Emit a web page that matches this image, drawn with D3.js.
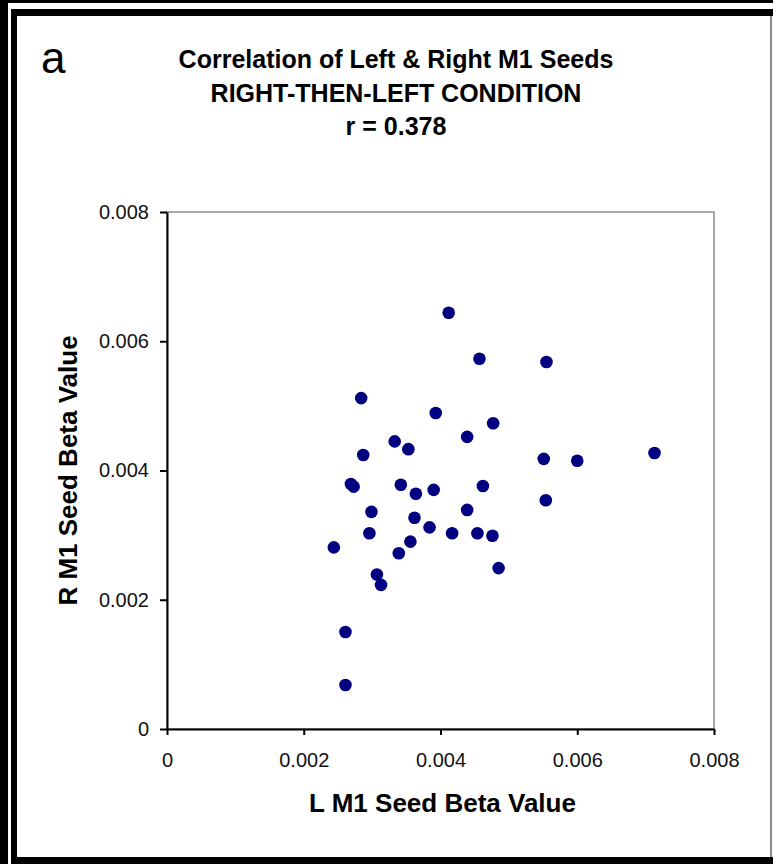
<!DOCTYPE html>
<html>
<head>
<meta charset="utf-8">
<script src="https://cdn.jsdelivr.net/npm/d3@7"></script>
<style>
  body { margin: 0; background: #fff; }
  svg { display: block; }
</style>
</head>
<body>
<div id="chart"></div>
<script>
// L M1 seed beta (x) and R M1 seed beta (y), one entry per subject
const lValues = [
  0.00412, 0.00457, 0.00555, 0.00284, 0.00393, 0.00477, 0.00333, 0.00439, 0.00353,
  0.00287, 0.00551, 0.00600, 0.00713, 0.00269, 0.00273, 0.00342, 0.00364, 0.00390,
  0.00462, 0.00554, 0.00299, 0.00362, 0.00439, 0.00296, 0.00384, 0.00417, 0.00454,
  0.00476, 0.00244, 0.00356, 0.00339, 0.00307, 0.00313, 0.00261, 0.00261, 0.00485
];
const rValues = [
  0.00644, 0.00573, 0.00568, 0.00512, 0.00489, 0.00473, 0.00445, 0.00452, 0.00433,
  0.00424, 0.00418, 0.00415, 0.00427, 0.00379, 0.00375, 0.00378, 0.00364, 0.00370,
  0.00376, 0.00354, 0.00336, 0.00327, 0.00339, 0.00303, 0.00312, 0.00303, 0.00303,
  0.00299, 0.00281, 0.00290, 0.00272, 0.00239, 0.00223, 0.00150, 0.00068, 0.00249
];
const tickValues = [0, 0.002, 0.004, 0.006, 0.008];
const tickLabels = ['0', '0.002', '0.004', '0.006', '0.008'];
const titleLines = ['Correlation of Left & Right M1 Seeds', 'RIGHT-THEN-LEFT CONDITION', 'r = 0.378'];
const panelLabel = 'a';
const xTitle = 'L M1 Seed Beta Value';
const yTitle = 'R M1 Seed Beta Value';

const width = 773;
const height = 864;
const margin = { top: 212, right: 59, bottom: 135, left: 167 };
const innerW = width - margin.left - margin.right;
const innerH = height - margin.top - margin.bottom;
const font = '"Liberation Sans", Arial, sans-serif';

const svg = d3.select('#chart')
  .append('svg')
    .attr('width', width)
    .attr('height', height);

// frame
const frame = svg.append('g').classed('frame', true);
frame.append('rect').attr('x', 0).attr('y', 0).attr('width', 8).attr('height', height).attr('fill', '#000');
frame.append('rect').attr('x', 0).attr('y', 0).attr('width', width).attr('height', 3).attr('fill', '#000');
frame.append('rect').attr('x', 11).attr('y', 9).attr('width', 6).attr('height', height - 9).attr('fill', '#000');
frame.append('rect').attr('x', 11).attr('y', 9).attr('width', width - 11).attr('height', 7).attr('fill', '#000');
frame.append('rect').attr('x', 11).attr('y', 857).attr('width', width - 11).attr('height', 7).attr('fill', '#000');
frame.append('rect').attr('x', 770).attr('y', 16).attr('width', 2).attr('height', 841).attr('fill', '#8a8a8a');

const x = d3.scaleLinear().domain([0, 0.008]).range([0, innerW]);
const y = d3.scaleLinear().domain([0, 0.008]).range([innerH, 0]);

const g = svg.append('g')
    .attr('transform', `translate(${margin.left}, ${margin.top})`);

// plot border (top / right in grey)
g.append('rect')
    .attr('x', 0).attr('y', 0)
    .attr('width', innerW).attr('height', innerH)
    .attr('fill', 'none')
    .attr('stroke', '#8c8c8c')
    .attr('stroke-width', 1.5);

const yAxis = g.append('g')
    .classed('y-axis', true)
    .call(d3.axisLeft(y)
      .tickValues(tickValues)
      .tickFormat((d, i) => tickLabels[i])
      .tickSize(7)
      .tickSizeOuter(0)
      .tickPadding(11));

const xAxis = g.append('g')
    .classed('x-axis', true)
    .attr('transform', `translate(0, ${innerH})`)
    .call(d3.axisBottom(x)
      .tickValues(tickValues)
      .tickFormat((d, i) => tickLabels[i])
      .tickSize(6)
      .tickSizeOuter(0)
      .tickPadding(18));

[yAxis, xAxis].forEach(a => {
  a.select('.domain').attr('stroke', '#000').attr('stroke-width', 2);
  a.selectAll('.tick line').attr('stroke', '#000').attr('stroke-width', 2);
  a.selectAll('.tick text')
    .attr('fill', '#111')
    .style('font-family', font)
    .style('font-size', '20px');
});

g.selectAll('.dot')
  .data(lValues.map((d, i) => [d, rValues[i]]))
  .enter()
  .append('circle')
    .classed('dot', true)
    .attr('cx', d => x(d[0]))
    .attr('cy', d => y(d[1]))
    .attr('r', 6.3)
    .attr('fill', '#000080');

// titles
svg.append('g')
  .selectAll('text')
  .data(titleLines)
  .enter()
  .append('text')
    .attr('x', 396)
    .attr('y', (d, i) => 68 + i * 33.5)
    .attr('text-anchor', 'middle')
    .style('font-family', font)
    .style('font-weight', 'bold')
    .style('font-size', '25px')
    .text(d => d);

svg.append('text')
    .attr('x', 41)
    .attr('y', 73)
    .style('font-family', font)
    .style('font-size', '44px')
    .text(panelLabel);

svg.append('text')
    .attr('x', margin.left + innerW / 2 + 2)
    .attr('y', 812)
    .attr('text-anchor', 'middle')
    .style('font-family', font)
    .style('font-weight', 'bold')
    .style('font-size', '26px')
    .text(xTitle);

svg.append('text')
    .attr('transform', `translate(77, ${margin.top + innerH / 2}) rotate(-90)`)
    .attr('text-anchor', 'middle')
    .style('font-family', font)
    .style('font-weight', 'bold')
    .style('font-size', '26px')
    .text(yTitle);
</script>
</body>
</html>
